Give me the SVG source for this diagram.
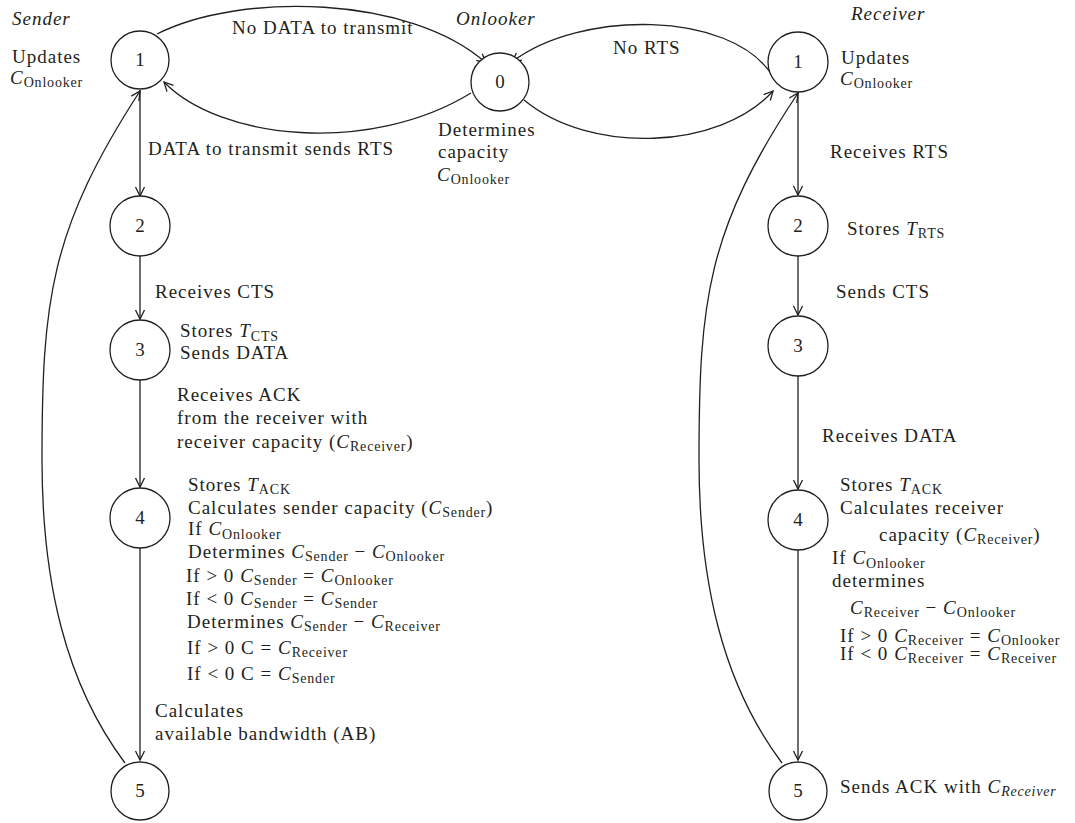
<svg xmlns="http://www.w3.org/2000/svg" width="1075" height="823" viewBox="0 0 1075 823">
<defs>
<style>
text{font-family:"Liberation Serif","Times New Roman",serif;font-size:19px;fill:#231f20;letter-spacing:1px}
.it{font-style:italic}
.sub{font-size:14px;letter-spacing:0.8px}
.num{text-anchor:middle;letter-spacing:0}
circle{fill:#fff;stroke:#231f20;stroke-width:1.3}
.edge{fill:none;stroke:#231f20;stroke-width:1.3;marker-end:url(#arr)}
</style>
<marker id="arr" viewBox="-12 -7 14 14" markerWidth="14" markerHeight="14" refX="0" refY="0" orient="auto" markerUnits="userSpaceOnUse">
<path d="M-9,-4.5 L0,0 L-9,4.5" fill="none" stroke="#231f20" stroke-width="1.3"/>
</marker>
</defs>
<rect width="1075" height="823" fill="#fff"/>

<g id="connectors">
<path class="edge" d="M157,34 C240,-8 410,-5 486,63"/>
<path class="edge" d="M471,93 C370,155 220,140 164,82"/>
<path class="edge" d="M772,75 C730,10 580,10 512,62"/>
<path class="edge" d="M524,100 C590,155 720,150 773,91"/>
<path class="edge" d="M125,763 C65,683 42,580 42,460 C42,300 50,230 140,91"/>
<path class="edge" d="M782,763 C722,683 699,580 699,460 C699,300 707,230 798,93"/>
<path class="edge" d="M140,90 L140,196"/>
<path class="edge" d="M140,256 L140,319"/>
<path class="edge" d="M140,380 L140,487"/>
<path class="edge" d="M140,548 L140,760"/>
<path class="edge" d="M798,92 L798,195"/>
<path class="edge" d="M798,256 L798,315"/>
<path class="edge" d="M798,376 L798,489"/>
<path class="edge" d="M798,550 L798,760"/>
</g>

<g id="labels">
<text class="it" x="12" y="25">Sender</text>
<text class="it" x="456" y="25">Onlooker</text>
<text class="it" x="851" y="20">Receiver</text>
<text x="12" y="63">Updates</text>
<text x="10" y="84"><tspan class="it">C</tspan><tspan class="sub" dy="3">Onlooker</tspan></text>
<text x="232" y="34">No DATA to transmit</text>
<text x="613" y="54">No RTS</text>
<text x="841" y="64">Updates</text>
<text x="840" y="85"><tspan class="it">C</tspan><tspan class="sub" dy="3">Onlooker</tspan></text>
<text x="438" y="136">Determines</text>
<text x="438" y="158">capacity</text>
<text x="437" y="181"><tspan class="it">C</tspan><tspan class="sub" dy="3">Onlooker</tspan></text>
<text x="148" y="155">DATA to transmit sends RTS</text>
<text x="830" y="158">Receives RTS</text>
<text x="155" y="298">Receives CTS</text>
<text x="180" y="337">Stores <tspan class="it">T</tspan><tspan class="sub" dy="4">CTS</tspan></text>
<text x="180" y="359">Sends DATA</text>
<text x="177" y="401">Receives ACK</text>
<text x="177" y="424">from the receiver with</text>
<text x="177" y="448">receiver capacity (<tspan class="it">C</tspan><tspan class="sub" dy="3">Receiver</tspan><tspan dy="-3">)</tspan></text>
<text x="188" y="491">Stores <tspan class="it">T</tspan><tspan class="sub" dy="3">ACK</tspan></text>
<text x="188" y="514">Calculates sender capacity (<tspan class="it">C</tspan><tspan class="sub" dy="3">Sender</tspan><tspan dy="-3">)</tspan></text>
<text x="188" y="535">If <tspan class="it">C</tspan><tspan class="sub" dy="4">Onlooker</tspan></text>
<text x="188" y="558">Determines <tspan class="it">C</tspan><tspan class="sub" dy="3">Sender</tspan><tspan dy="-3"> − </tspan><tspan class="it">C</tspan><tspan class="sub" dy="3">Onlooker</tspan></text>
<text x="186" y="582">If &gt; 0 <tspan class="it">C</tspan><tspan class="sub" dy="3">Sender</tspan><tspan dy="-3"> = </tspan><tspan class="it">C</tspan><tspan class="sub" dy="3">Onlooker</tspan></text>
<text x="186" y="605">If &lt; 0 <tspan class="it">C</tspan><tspan class="sub" dy="3">Sender</tspan><tspan dy="-3"> = </tspan><tspan class="it">C</tspan><tspan class="sub" dy="3">Sender</tspan></text>
<text x="187" y="628">Determines <tspan class="it">C</tspan><tspan class="sub" dy="3">Sender</tspan><tspan dy="-3"> − </tspan><tspan class="it">C</tspan><tspan class="sub" dy="3">Receiver</tspan></text>
<text x="187" y="654">If &gt; 0 C = <tspan class="it">C</tspan><tspan class="sub" dy="3">Receiver</tspan></text>
<text x="187" y="680">If &lt; 0 C = <tspan class="it">C</tspan><tspan class="sub" dy="3">Sender</tspan></text>
<text x="155" y="717">Calculates</text>
<text x="155" y="740">available bandwidth (AB)</text>
<text x="847" y="235">Stores <tspan class="it">T</tspan><tspan class="sub" dy="3">RTS</tspan></text>
<text x="836" y="298">Sends CTS</text>
<text x="822" y="442">Receives DATA</text>
<text x="840" y="491">Stores <tspan class="it">T</tspan><tspan class="sub" dy="3">ACK</tspan></text>
<text x="840" y="514">Calculates receiver</text>
<text x="879" y="541">capacity (<tspan class="it">C</tspan><tspan class="sub" dy="3">Receiver</tspan><tspan dy="-3">)</tspan></text>
<text x="832" y="564">If <tspan class="it">C</tspan><tspan class="sub" dy="4">Onlooker</tspan></text>
<text x="832" y="587">determines</text>
<text x="850" y="614"><tspan class="it">C</tspan><tspan class="sub" dy="3">Receiver</tspan><tspan dy="-3"> − </tspan><tspan class="it">C</tspan><tspan class="sub" dy="3">Onlooker</tspan></text>
<text x="840" y="642">If &gt; 0 <tspan class="it">C</tspan><tspan class="sub" dy="3">Receiver</tspan><tspan dy="-3"> = </tspan><tspan class="it">C</tspan><tspan class="sub" dy="3">Onlooker</tspan></text>
<text x="840" y="660">If &lt; 0 <tspan class="it">C</tspan><tspan class="sub" dy="3">Receiver</tspan><tspan dy="-3"> = </tspan><tspan class="it">C</tspan><tspan class="sub" dy="3">Receiver</tspan></text>
<text x="840" y="793">Sends ACK with <tspan class="it">C</tspan><tspan class="sub it" dy="3">Receiver</tspan></text>
</g>

<g id="sender-1"><circle cx="140" cy="60" r="29"/><text class="num" x="140" y="66">1</text></g>
<g id="sender-2"><circle cx="140" cy="226" r="30"/><text class="num" x="140" y="232">2</text></g>
<g id="sender-3"><circle cx="140" cy="350" r="30"/><text class="num" x="140" y="356">3</text></g>
<g id="sender-4"><circle cx="140" cy="518" r="30"/><text class="num" x="140" y="524">4</text></g>
<g id="sender-5"><circle cx="140" cy="791" r="29"/><text class="num" x="140" y="797">5</text></g>
<g id="onlooker-0"><circle cx="500" cy="82" r="29"/><text class="num" x="500" y="88">0</text></g>
<g id="receiver-1"><circle cx="798" cy="62" r="30"/><text class="num" x="798" y="68">1</text></g>
<g id="receiver-2"><circle cx="798" cy="226" r="30"/><text class="num" x="798" y="232">2</text></g>
<g id="receiver-3"><circle cx="798" cy="346" r="30"/><text class="num" x="798" y="352">3</text></g>
<g id="receiver-4"><circle cx="798" cy="520" r="30"/><text class="num" x="798" y="526">4</text></g>
<g id="receiver-5"><circle cx="798" cy="791" r="29"/><text class="num" x="798" y="797">5</text></g>
</svg>
